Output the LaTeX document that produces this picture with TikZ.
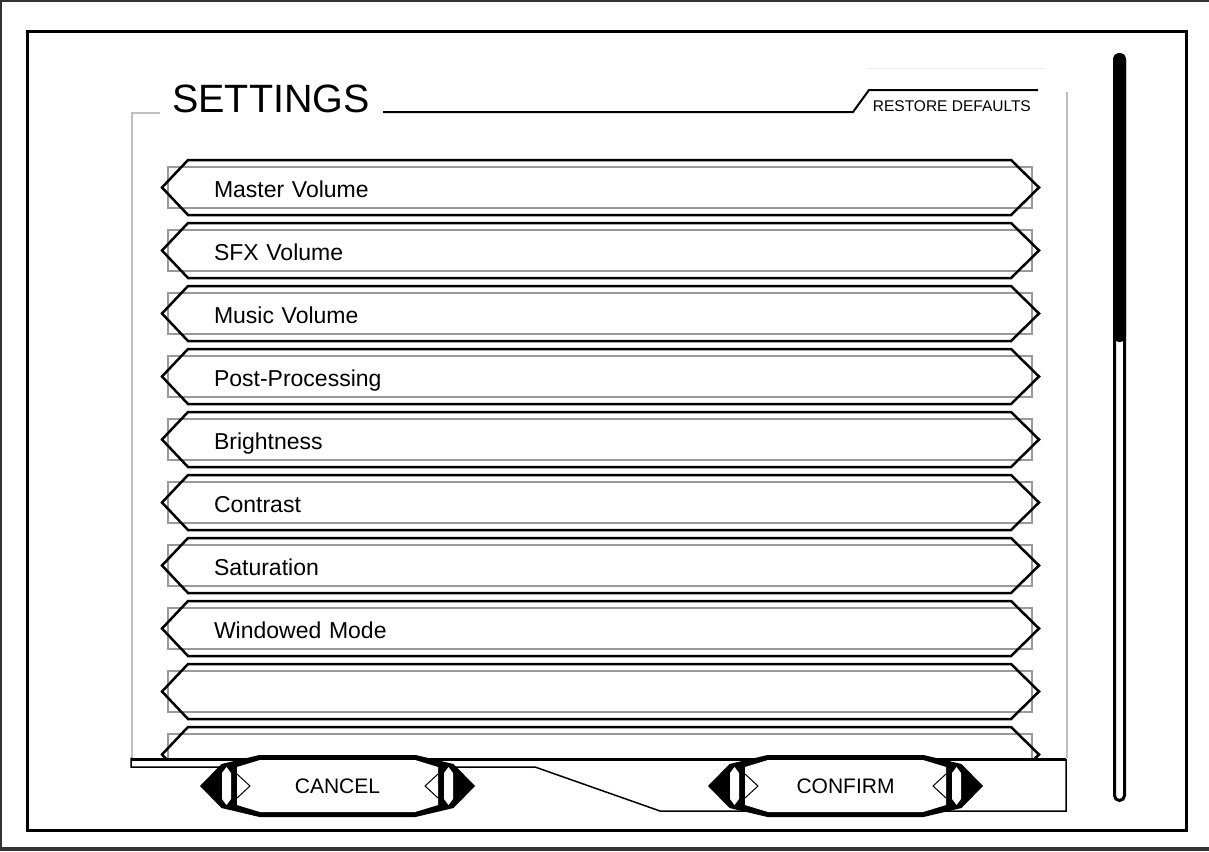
\documentclass[tikz,border=0pt]{standalone}
\usepackage{fontspec}
\setmainfont{Liberation Sans}
\usepackage{tikz}
\usetikzlibrary{positioning}

\definecolor{boxgray}{gray}{0.6}
\definecolor{panelgray}{gray}{0.75}
\definecolor{faintgray}{gray}{0.92}
\definecolor{edgegray}{gray}{0.2}

\begin{document}
\begin{tikzpicture}[x=1pt, y=-1pt,
	row/.style={draw=boxgray, line width=1.5pt, minimum width=864pt, minimum height=41pt, inner sep=0pt, outer sep=0pt, text width=772pt, align=left, text height=21pt, text depth=2pt, font=\fontsize{23}{27}\selectfont},
	rim/.style={draw=black, line width=2.5pt},
	btntext/.style={font=\fontsize{21}{25}\selectfont}]

	\useasboundingbox (0,0) rectangle (1209,851);
	\fill[edgegray] (0,0) rectangle (1209,2);
	\fill[edgegray] (0,0) rectangle (2,851);
	\fill[edgegray] (0,847) rectangle (1209,851);
	\draw[line width=3pt] (27,32) rectangle (1186,830);

	\node[anchor=base west, inner sep=0pt, font=\fontsize{39.5}{46}\selectfont](T) at (172,112){SETTINGS};
	\node[anchor=base east, inner sep=0pt, font=\fontsize{15.5}{18}\selectfont](RD) at (1031,111){RESTORE DEFAULTS};
	\draw[line width=2pt] (383,112) -- (853,112) -- (869,90) -- (1038,90);
	\draw[faintgray, line width=1pt] (868,68) -- (1044,68);

	\draw[panelgray, line width=1.5pt] (160,113) -- (132,113) -- (132,758);
	\draw[panelgray, line width=1.5pt] (1067,92) -- (1067,758);

	\begin{scope}
	\clip (0,0) rectangle (1209,758);
	\node[row](R1) at (600,187.5){Master Volume};
	\node[row, below of=R1, node distance=63pt](R2){SFX Volume};
	\node[row, below of=R2, node distance=63pt](R3){Music Volume};
	\node[row, below of=R3, node distance=63pt](R4){Post-Processing};
	\node[row, below of=R4, node distance=63pt](R5){Brightness};
	\node[row, below of=R5, node distance=63pt](R6){Contrast};
	\node[row, below of=R6, node distance=63pt](R7){Saturation};
	\node[row, below of=R7, node distance=63pt](R8){Windowed Mode};
	\node[row, below of=R8, node distance=63pt](R9){};
	\node[row, below of=R9, node distance=63pt](R10){};
	\foreach \r in {1,...,10}
		\draw[rim] ([shift={(20pt,7pt)}]R\r.north west) -- ([xshift=-6pt]R\r.west) -- ([shift={(20pt,-7pt)}]R\r.south west) -- ([shift={(-21pt,-7pt)}]R\r.south east) -- ([xshift=7pt]R\r.east) -- ([shift={(-21pt,7pt)}]R\r.north east) -- cycle;
	\end{scope}

	% scroll bar
	\fill[rounded corners=6.5pt] (1113,53) rectangle (1126,342);
	\draw[line width=3pt, rounded corners=5pt] (1114.5,54.5) rectangle (1124.5,800.5);

	% bottom bar
	\draw[line width=3pt] (131,759) -- (1066,759);
	\draw[line width=1.5pt] (131,757.5) -- (131,767) -- (535,767) -- (660,811) -- (1066,811) -- (1066,759);

	\coordinate (BC) at (337.5,786);
	\coordinate[right of=BC, node distance=508pt] (BK);
	\foreach \b in {BC,BK}{
		\begin{scope}[shift={(\b)}]
		\fill (-137.5,0) -- (-116,-22) -- (-78,-31) -- (78,-31) -- (116,-22) -- (137.5,0) -- (116,22) -- (78,31) -- (-78,31) -- (-116,22) -- cycle;
		\fill[white] (-100.5,-19) -- (-77.5,-26) -- (77.5,-26) -- (100.5,-19) -- (100.5,19) -- (77.5,26) -- (-77.5,26) -- (-100.5,19) -- cycle;
		\foreach \s in {1,-1}{
			\fill[white, xscale=\s] (-111,-19) -- (-106.5,-13) -- (-106.5,13) -- (-111,19) -- (-115.5,13) -- (-115.5,-13) -- cycle;
			\draw[line width=1pt, xscale=\s] (-100.5,-12) -- (-87.5,0) -- (-100.5,12);
		}
		\end{scope}
	}
	\node[btntext](CANCEL) at (BC){CANCEL};
	\node[btntext](CONFIRM) at (BK){CONFIRM};
\end{tikzpicture}
\end{document}
